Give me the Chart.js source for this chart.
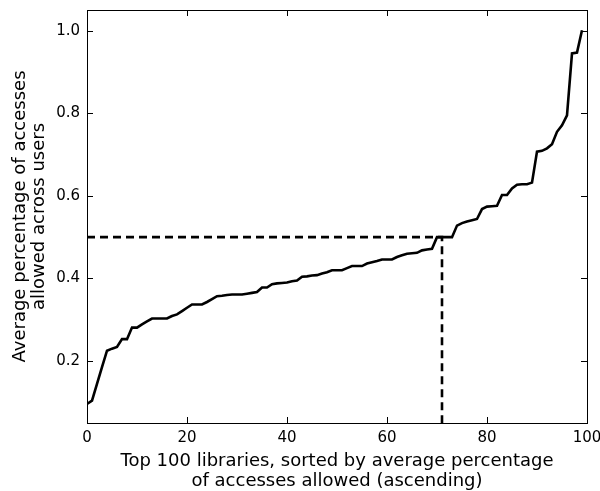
<!DOCTYPE html>
<html lang="en">
<head>
  <meta charset="UTF-8" />
  <title>Average percentage of accesses allowed</title>
  <script src="https://cdn.jsdelivr.net/npm/chart.js"></script>
  <style>
    body {
      margin: 0;
      background: #ffffff;
    }
    canvas {
      display: block;
    }
  </style>
</head>
<body>
  <canvas id="accessChart" width="600" height="491"></canvas>

  <script>
    // library rank (0..99), sorted ascending by average percentage allowed
    const libraryRank = [
      0, 1, 2, 3, 4, 5, 6, 7, 8, 9, 10, 11, 12, 13, 14, 15, 16, 17, 18, 19,
      20, 21, 22, 23, 24, 25, 26, 27, 28, 29, 30, 31, 32, 33, 34, 35, 36, 37, 38, 39,
      40, 41, 42, 43, 44, 45, 46, 47, 48, 49, 50, 51, 52, 53, 54, 55, 56, 57, 58, 59,
      60, 61, 62, 63, 64, 65, 66, 67, 68, 69, 70, 71, 72, 73, 74, 75, 76, 77, 78, 79,
      80, 81, 82, 83, 84, 85, 86, 87, 88, 89, 90, 91, 92, 93, 94, 95, 96, 97, 98, 99
    ];
    const avgAllowed = [
      0.096, 0.104, 0.145, 0.185, 0.225, 0.230, 0.234, 0.253, 0.253, 0.281,
      0.281, 0.289, 0.296, 0.303, 0.303, 0.303, 0.303, 0.309, 0.313, 0.321,
      0.329, 0.337, 0.337, 0.337, 0.343, 0.350, 0.357, 0.358, 0.360, 0.361,
      0.361, 0.361, 0.363, 0.365, 0.367, 0.378, 0.378, 0.386, 0.388, 0.389,
      0.390, 0.393, 0.395, 0.404, 0.405, 0.407, 0.408, 0.412, 0.415, 0.420,
      0.420, 0.420, 0.425, 0.430, 0.430, 0.430, 0.436, 0.439, 0.442, 0.446,
      0.446, 0.446, 0.452, 0.456, 0.460, 0.461, 0.462, 0.468, 0.470, 0.472,
      0.500, 0.500, 0.500, 0.500, 0.528, 0.534, 0.538, 0.541, 0.544, 0.568,
      0.574, 0.575, 0.576, 0.602, 0.602, 0.618, 0.627, 0.628, 0.628, 0.632,
      0.707, 0.709, 0.715, 0.725, 0.755, 0.771, 0.795, 0.945, 0.947, 1.001
    ];

    // median guide: horizontal at 0.5 up to rank 71, then down to the axis
    const guideX = [0, 71, 71];
    const guideY = [0.5, 0.5, 0.05];

    const xTicks = [0, 20, 40, 60, 80, 100];
    const yTicks = [0.2, 0.4, 0.6, 0.8, 1.0];

    const FONT = "'DejaVu Sans', sans-serif";

    // matplotlib-like frame with inward ticks on all four sides
    const framePlugin = {
      id: 'frame',
      afterDraw(chart) {
        const { ctx, chartArea: a, scales } = chart;
        const len = 6;
        ctx.save();
        ctx.strokeStyle = '#000';
        ctx.lineWidth = 1;
        ctx.beginPath();
        xTicks.forEach(v => {
          const px = Math.round(scales.x.getPixelForValue(v)) + 0.5;
          ctx.moveTo(px, a.bottom); ctx.lineTo(px, a.bottom - len);
          ctx.moveTo(px, a.top); ctx.lineTo(px, a.top + len);
        });
        yTicks.forEach(v => {
          const py = Math.round(scales.y.getPixelForValue(v)) + 0.5;
          ctx.moveTo(a.left, py); ctx.lineTo(a.left + len, py);
          ctx.moveTo(a.right, py); ctx.lineTo(a.right - len, py);
        });
        ctx.stroke();
        ctx.strokeRect(Math.round(a.left) + 0.5, Math.round(a.top) + 0.5,
                       Math.round(a.right - a.left), Math.round(a.bottom - a.top));
        ctx.restore();
      }
    };

    const ctx = document.getElementById('accessChart').getContext('2d');

    new Chart(ctx, {
      type: 'scatter',
      data: {
        datasets: [
          {
            data: libraryRank.map((x, i) => ({ x: x, y: avgAllowed[i] })),
            showLine: true,
            borderColor: '#000',
            borderWidth: 2.6,
            pointRadius: 0,
            tension: 0
          },
          {
            data: guideX.map((x, i) => ({ x: x, y: guideY[i] })),
            showLine: true,
            borderColor: '#000',
            borderWidth: 2.6,
            borderDash: [8, 5],
            pointRadius: 0,
            tension: 0
          }
        ]
      },
      options: {
        responsive: false,
        animation: false,
        layout: { padding: { top: 10, right: 13, left: 0, bottom: 0 } },
        plugins: {
          legend: { display: false },
          tooltip: { enabled: false }
        },
        scales: {
          x: {
            type: 'linear',
            min: 0,
            max: 100,
            afterBuildTicks: s => { s.ticks = xTicks.map(v => ({ value: v })); },
            afterFit: s => { s.height = 68; s.paddingLeft = 0; s.paddingRight = 0; },
            grid: { display: false, drawTicks: false },
            border: { display: false },
            ticks: {
              color: '#000',
              font: { family: FONT, size: 15 },
              padding: 6
            },
            title: {
              display: true,
              text: ['Top 100 libraries, sorted by average percentage',
                     'of accesses allowed (ascending)'],
              color: '#000',
              font: { family: FONT, size: 18, lineHeight: 1.1 },
              padding: { top: 0, bottom: 0 }
            }
          },
          y: {
            type: 'linear',
            min: 0.05,
            max: 1.05,
            afterBuildTicks: s => { s.ticks = yTicks.map(v => ({ value: v })); },
            afterFit: s => { s.width = 87; s.paddingTop = 0; s.paddingBottom = 0; },
            grid: { display: false, drawTicks: false },
            border: { display: false },
            ticks: {
              color: '#000',
              font: { family: FONT, size: 15 },
              padding: 7,
              callback: v => v.toFixed(1)
            },
            title: {
              display: true,
              text: ['Average percentage of accesses', 'allowed across users'],
              color: '#000',
              font: { family: FONT, size: 18, lineHeight: 1.1 },
              padding: { top: 10, bottom: 0 }
            }
          }
        }
      },
      plugins: [framePlugin]
    });
  </script>
</body>
</html>
